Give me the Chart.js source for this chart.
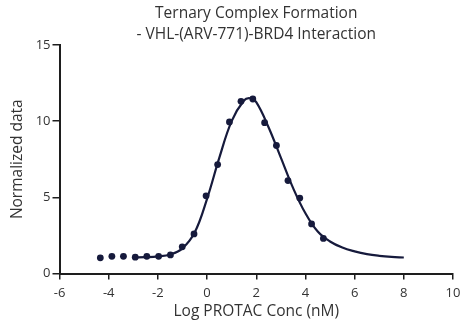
<!DOCTYPE html>
<html>
<head>
<meta charset="utf-8">
<script src="https://cdn.jsdelivr.net/npm/chart.js@4"></script>
<style>
  html, body { margin: 0; padding: 0; background: #fff; }
  #myChart { display: block; }
</style>
</head>
<body>
<canvas id="myChart" width="468" height="326"></canvas>
<script>
// measured points (log nM vs normalized signal)
var logConc = [-4.34, -3.87, -3.40, -2.92, -2.45, -1.97, -1.49, -1.01, -0.53, -0.04,
               0.43, 0.91, 1.38, 1.86, 2.34, 2.82, 3.29, 3.77, 4.25, 4.73];
var normValues = [1.03, 1.13, 1.13, 1.07, 1.13, 1.13, 1.22, 1.75, 2.6, 5.1,
                  7.15, 9.95, 11.3, 11.45, 9.9, 8.4, 6.1, 4.95, 3.25, 2.3];

// fitted curve
var fitX = [-3, -2.5, -2, -1.5, -1, -0.5, 0, 0.5, 1, 1.5, 1.75, 2, 2.5, 3, 3.5, 4, 4.5, 5, 5.5, 6, 6.5, 7, 7.5, 8];
var fitY = [1.05, 1.07, 1.12, 1.25, 1.65, 2.7, 4.9, 7.6, 10.0, 11.35, 11.5, 11.25, 9.6, 7.6, 5.6, 3.95, 2.75, 2.1, 1.7, 1.45, 1.27, 1.16, 1.09, 1.05];

var xTicks = [-6, -4, -2, 0, 2, 4, 6, 8, 10];
var yTicks = [0, 5, 10, 15];

var navy = '#161a3c';
var axisColor = '#1e1e1e';
var textColor = '#333333';
var fontFamily = "'Open Sans', 'Noto Sans', sans-serif";

function toXY(xs, ys) {
    return xs.map(function (x, i) { return { x: x, y: ys[i] }; });
}

// center the title over the plot area instead of the whole canvas
var titleOverPlot = {
    id: 'titleOverPlot',
    afterLayout: function (chart) {
        var t = chart.titleBlock;
        if (t) {
            t.left = chart.chartArea.left;
            t.right = chart.chartArea.right;
        }
    }
};

var ctx = document.getElementById('myChart').getContext('2d');
var myChart = new Chart(ctx, {
    type: 'scatter',
    data: {
        datasets: [{
            label: 'Fit',
            data: toXY(fitX, fitY),
            showLine: true,
            borderColor: navy,
            borderWidth: 2.2,
            pointRadius: 0,
            tension: 0.4,
            fill: false
        }, {
            label: 'Data',
            data: toXY(logConc, normValues),
            showLine: false,
            backgroundColor: navy,
            borderColor: navy,
            pointRadius: 3.4,
            pointBorderWidth: 0
        }]
    },
    options: {
        responsive: false,
        animation: false,
        layout: { padding: { left: 0, right: 15, top: 0, bottom: 0 } },
        plugins: {
            legend: { display: false },
            tooltip: { enabled: false },
            title: {
                display: true,
                text: ['Ternary Complex Formation', '- VHL-(ARV-771)-BRD4 Interaction'],
                color: textColor,
                font: { family: fontFamily, size: 15.5, weight: 'normal', lineHeight: 1.32 },
                padding: { top: 3.5, bottom: 0.5 }
            }
        },
        scales: {
            x: {
                type: 'linear',
                min: -6,
                max: 10,
                afterBuildTicks: function (axis) {
                    axis.ticks = xTicks.map(function (v) { return { value: v }; });
                },
                afterFit: function (axis) { axis.height = 52.5; },
                grid: { display: true, drawOnChartArea: false, drawTicks: true, tickLength: 6, color: axisColor, lineWidth: 1.5 },
                border: { display: true, color: axisColor, width: 2 },
                ticks: { color: textColor, font: { family: fontFamily, size: 13 }, padding: 6, maxRotation: 0 },
                title: {
                    display: true,
                    text: 'Log PROTAC Conc (nM)',
                    color: textColor,
                    font: { family: fontFamily, size: 15.5 },
                    padding: { top: 0, bottom: 5 }
                }
            },
            y: {
                type: 'linear',
                min: 0,
                max: 15,
                afterBuildTicks: function (axis) {
                    axis.ticks = yTicks.map(function (v) { return { value: v }; });
                },
                afterFit: function (axis) { axis.width = 59.5; },
                grid: { display: true, drawOnChartArea: false, drawTicks: true, tickLength: 7, color: axisColor, lineWidth: 1.5 },
                border: { display: true, color: axisColor, width: 2 },
                ticks: { color: textColor, font: { family: fontFamily, size: 13 }, padding: 2 },
                title: {
                    display: true,
                    text: 'Normalized data',
                    color: textColor,
                    font: { family: fontFamily, size: 15.5 },
                    padding: { top: 8.5, bottom: 0 }
                }
            }
        }
    },
    plugins: [titleOverPlot]
});
</script>
</body>
</html>
